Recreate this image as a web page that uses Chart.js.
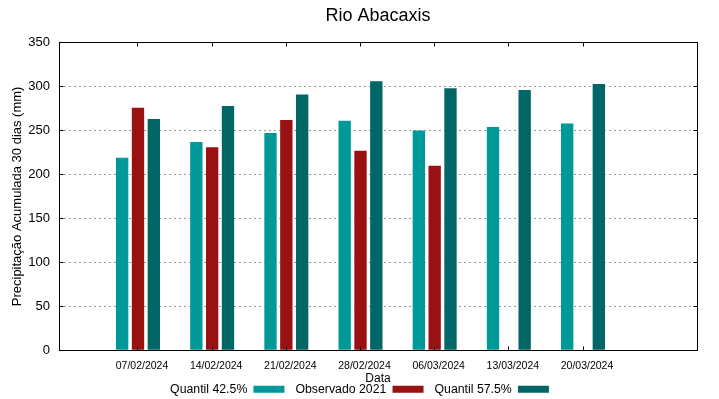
<!DOCTYPE html>
<html>
<head>
    <title>Rio Abacaxis</title>
    <script src="https://cdn.jsdelivr.net/npm/chart.js"></script>
    <style>
        body { margin: 0; background: #fff; }
    </style>
</head>
<body>
    <canvas id="chart" width="719" height="399"></canvas>

    <script>
        // datas de referencia (eixo x)
        const datas = ['07/02/2024', '14/02/2024', '21/02/2024', '28/02/2024', '06/03/2024', '13/03/2024', '20/03/2024'];

        const quantil425 = [219, 237, 247, 261, 250, 254, 258];
        const observado2021 = [276, 231, 262, 227, 210, null, null];
        const quantil575 = [263, 278, 291, 306, 298, 296, 303];

        const yTicks = [0, 50, 100, 150, 200, 250, 300, 350];

        function toPoints(values) {
            return values.map((v, i) => ({ x: i, y: v }));
        }

        function align(px) {
            return Math.round(px - 0.5) + 0.5;
        }

        // moldura preta e marcas para dentro, como no gnuplot
        const frame = {
            id: 'frame',
            afterDraw(chart) {
                const { ctx, chartArea, scales } = chart;
                const l = align(chartArea.left), r = align(chartArea.right);
                const t = align(chartArea.top), b = align(chartArea.bottom);
                ctx.save();
                ctx.strokeStyle = '#000';
                ctx.lineWidth = 1;
                ctx.strokeRect(l, t, r - l, b - t);
                ctx.beginPath();
                yTicks.forEach(v => {
                    const y = align(scales.y.getPixelForValue(v));
                    ctx.moveTo(l, y); ctx.lineTo(l + 4, y);
                    ctx.moveTo(r, y); ctx.lineTo(r - 4, y);
                });
                datas.forEach((d, i) => {
                    const x = align(scales.x.getPixelForValue(i));
                    ctx.moveTo(x, b); ctx.lineTo(x, b - 4);
                    ctx.moveTo(x, t); ctx.lineTo(x, t + 4);
                });
                ctx.stroke();
                ctx.restore();
            }
        };

        Chart.defaults.font.family = '"Liberation Sans", Arial, sans-serif';
        Chart.defaults.color = '#000';

        const ctx = document.getElementById('chart').getContext('2d');
        const chart = new Chart(ctx, {
            type: 'bar',
            data: {
                datasets: [
                    { label: 'Quantil 42.5%', data: toPoints(quantil425), backgroundColor: '#009999' },
                    { label: 'Observado 2021', data: toPoints(observado2021), backgroundColor: '#991111' },
                    { label: 'Quantil 57.5%', data: toPoints(quantil575), backgroundColor: '#006666' }
                ]
            },
            options: {
                responsive: false,
                animation: false,
                categoryPercentage: 0.64,
                barPercentage: 0.78,
                layout: { padding: { left: 0, right: 0, top: 0, bottom: -6.5 } },
                scales: {
                    x: {
                        type: 'linear',
                        min: -1.065,
                        max: 7.537,
                        offset: false,
                        grid: { display: false },
                        border: { display: false },
                        afterBuildTicks: s => { s.ticks = datas.map((d, i) => ({ value: i })); },
                        afterFit: s => { s.height = 22; },
                        ticks: {
                            font: { size: 10.5 },
                            maxRotation: 0,
                            autoSkip: false,
                            labelOffset: 4,
                            padding: 2,
                            callback: v => datas[v] ?? ''
                        },
                        title: { display: true, text: 'Data', font: { size: 12 }, padding: { top: 0, bottom: -14 } }
                    },
                    y: {
                        min: 0,
                        max: 350,
                        afterBuildTicks: s => { s.ticks = yTicks.map(v => ({ value: v })); },
                        afterFit: s => { s.width = 59; },
                        grid: { color: '#999', drawTicks: false },
                        border: { display: false, dash: [2, 3] },
                        ticks: { font: { size: 13 }, padding: 9 },
                        title: {
                            display: true,
                            text: 'Precipitação Acumulada 30 dias (mm)',
                            font: { size: 13 },
                            padding: { top: 10, bottom: 2 }
                        }
                    },
                    // eixo vazio a direita, so para a margem
                    yRight: {
                        position: 'right',
                        grid: { display: false },
                        border: { display: false },
                        ticks: { display: false },
                        afterFit: s => { s.width = 22; }
                    }
                },
                plugins: {
                    title: {
                        display: true,
                        fullSize: false,
                        text: 'Rio Abacaxis',
                        font: { size: 18, weight: 'normal' },
                        padding: { top: 5, bottom: 16 }
                    },
                    legend: {
                        position: 'bottom',
                        rtl: true,
                        reverse: true,
                        labels: {
                            boxWidth: 31,
                            boxHeight: 7,
                            padding: 11,
                            font: { size: 12.3 }
                        }
                    },
                    tooltip: { enabled: false }
                }
            },
            plugins: [frame]
        });
    </script>
</body>
</html>
